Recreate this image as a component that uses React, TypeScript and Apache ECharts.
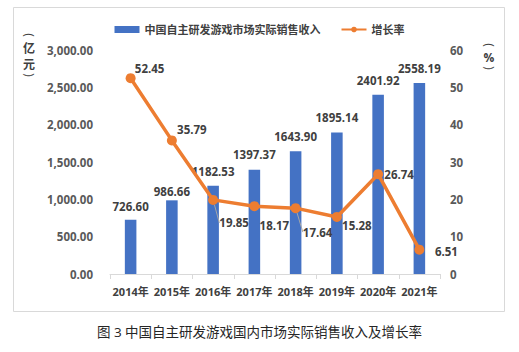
import React, { useEffect, useRef } from "react";
import * as echarts from "echarts";

const years = ["2014年", "2015年", "2016年", "2017年", "2018年", "2019年", "2020年", "2021年"];
const revenue = [726.6, 986.66, 1182.53, 1397.37, 1643.9, 1895.14, 2401.92, 2558.19];
const growth = [52.45, 35.79, 19.85, 18.17, 17.64, 15.28, 26.74, 6.51];
const revenueName = "中国自主研发游戏市场实际销售收入";
const growthName = "增长率";
const caption = "图 3 中国自主研发游戏国内市场实际销售收入及增长率";
const leftUnit = ["(", "亿", "元", ")"];
const rightUnit = ["(", "%", ")"];

// label offsets of the growth labels (relative to their point)
const growthLabelOffsets: [number, number][] = [
  [19, -10], [20, -11], [21, 23], [20, 19], [22, 24], [20, 9], [21, 0], [27, 2],
];
const growthLeader = [false, false, true, false, true, false, false, false];
const barLabelDistance = [8, 3, 8, 9, 9, 9, 8, 9];

const FONT = "'Open Sans', 'Noto Sans CJK SC', sans-serif";
const TXT = "#404040";

export default function App() {
  const ref = useRef<HTMLDivElement>(null);
  useEffect(() => {
    const chart = echarts.init(ref.current!, null, { renderer: "svg" });
    const leftY = [35, 48, 64, 75];
    const rightY = [45, 57, 68];
    const unitText = (ch: string, x: number, y: number) => {
      const paren = ch === "(" || ch === ")";
      return {
        type: "text",
        x,
        y,
        rotation: paren ? -Math.PI / 2 : 0,
        style: {
          text: ch,
          font: paren ? `12px ${FONT}` : `bold 12px ${FONT}`,
          fill: TXT,
          align: "center",
          verticalAlign: "middle",
          lineHeight: paren ? 8 : 11,
        },
      };
    };
    chart.setOption({
      animation: false,
      backgroundColor: "#ffffff",
      textStyle: { fontFamily: FONT },
      legend: {
        top: 19,
        left: "center",
        itemGap: 20,
        itemWidth: 25,
        itemHeight: 7,
        textStyle: { fontSize: 11, fontWeight: "bold", color: TXT, fontFamily: FONT },
        data: [
          { name: revenueName, icon: "rect" },
          { name: growthName },
        ],
      },
      grid: { left: 110, right: 79, top: 50, bottom: 78 },
      xAxis: {
        type: "category",
        data: years,
        axisLine: { lineStyle: { color: "#d9d9d9" } },
        axisTick: { show: true, length: 5, lineStyle: { color: "#d9d9d9" } },
        axisLabel: { interval: 0, fontSize: 11, fontWeight: "bold", color: TXT, margin: 12, fontFamily: FONT },
      },
      yAxis: [
        {
          type: "value",
          min: 0,
          max: 3000,
          interval: 500,
          splitLine: { show: false },
          axisLine: { show: false },
          axisTick: { show: false },
          axisLabel: {
            fontSize: 11.5,
            fontWeight: "bold",
            color: "#595959",
            margin: 17,
            fontFamily: FONT,
            formatter: (v: number) =>
              v.toLocaleString("en-US", { minimumFractionDigits: 2, maximumFractionDigits: 2 }),
          },
        },
        {
          type: "value",
          min: 0,
          max: 60,
          interval: 10,
          splitLine: { show: false },
          axisLine: { show: false },
          axisTick: { show: false },
          axisLabel: { fontSize: 11.5, fontWeight: "bold", color: "#595959", margin: 10, fontFamily: FONT },
        },
      ],
      series: [
        {
          name: revenueName,
          type: "bar",
          barWidth: "28%",
          itemStyle: { color: "#4472C4" },
          data: revenue.map((v, i) => ({
            value: v,
            label: { distance: barLabelDistance[i] },
          })),
          label: {
            show: true,
            position: "top",
            fontSize: 11.5,
            fontWeight: "bold",
            color: TXT,
            fontFamily: FONT,
            formatter: (p: any) => p.value.toFixed(2),
          },
          z: 2,
        },
        {
          name: growthName,
          type: "line",
          yAxisIndex: 1,
          symbol: "circle",
          symbolSize: 10,
          lineStyle: { color: "#ED7D31", width: 3.5 },
          itemStyle: { color: "#ED7D31" },
          data: growth.map((v, i) => ({
            value: v,
            labelLine: { show: growthLeader[i] },
          })),
          label: {
            show: true,
            position: "inside",
            fontSize: 11.5,
            fontWeight: "bold",
            color: TXT,
            fontFamily: FONT,
            lineHeight: 13,
            formatter: (p: any) => p.value.toFixed(2),
          },
          labelLine: { show: false, lineStyle: { color: "#a6a6a6", width: 1 } },
          labelLayout: (p: any) => ({
            dx: growthLabelOffsets[p.dataIndex][0],
            dy: growthLabelOffsets[p.dataIndex][1],
          }),
          z: 3,
        },
      ],
      graphic: [
        {
          type: "rect",
          left: 11,
          top: 5,
          shape: { width: 491, height: 304 },
          style: { fill: "none", stroke: "#d9d9d9", lineWidth: 1 },
          silent: true,
        },
        ...leftUnit.map((ch, i) => unitText(ch, 29, leftY[i])),
        ...rightUnit.map((ch, i) => unitText(ch, 489, rightY[i])),
        {
          type: "text",
          left: "center",
          top: 325,
          style: {
            text: caption,
            font: `13.5px ${FONT}`,
            fill: "#262626",
          },
        },
      ],
    });
    return () => chart.dispose();
  }, []);
  return (
    <div
      ref={ref}
      style={{ position: "fixed", left: 0, top: 0, width: 519, height: 352, background: "#fff" }}
    />
  );
}
